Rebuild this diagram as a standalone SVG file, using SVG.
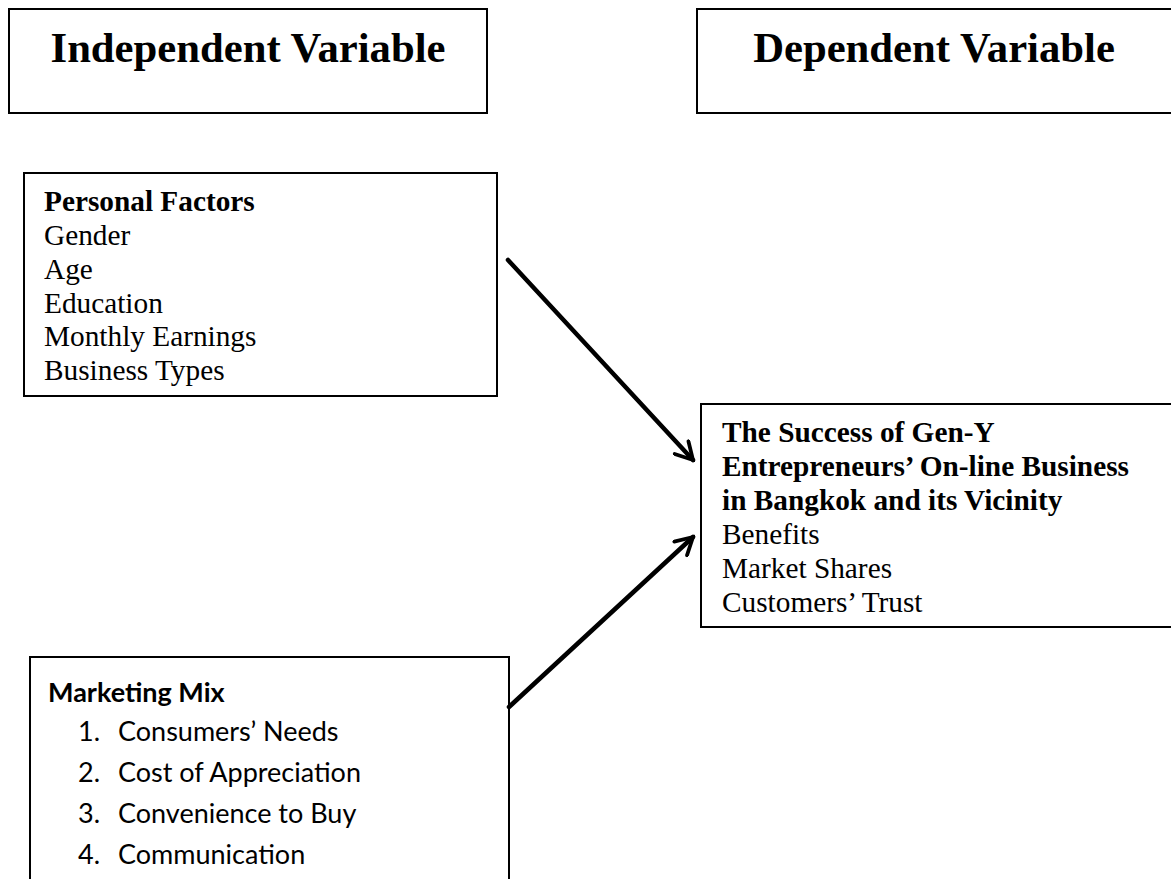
<svg xmlns="http://www.w3.org/2000/svg" width="1171" height="879" viewBox="0 0 1171 879">
<defs>
<style>
.box{fill:#fff;stroke:#000;stroke-width:2}
.title{font-family:"Liberation Serif","Times New Roman",serif;font-weight:bold;font-size:42.7px;text-anchor:middle}
.t{font-family:"Liberation Serif","Times New Roman",serif;font-size:29.3px}
.tb{font-family:"Liberation Serif","Times New Roman",serif;font-size:29.3px;font-weight:bold}
.c{font-family:Lato,"Liberation Sans",sans-serif;font-size:27px}
.cb{font-family:Lato,"Liberation Sans",sans-serif;font-size:27px;font-weight:bold}
.arrow{stroke:#000;stroke-width:4.5;fill:none;stroke-linecap:round}
</style>
<marker id="ah" viewBox="0 0 12 12" refX="10.5" refY="6" markerWidth="5" markerHeight="5" orient="auto" markerUnits="strokeWidth">
<path d="M1.5,1 L10.5,6 L1.5,11" fill="none" stroke="#000" stroke-width="2" stroke-linecap="round" stroke-linejoin="miter"/>
</marker>
</defs>
<rect width="1171" height="879" fill="#fff"/>
<g id="independent">
<rect class="box" x="9" y="9" width="478" height="104"/>
<text class="title" x="248" y="62">Independent Variable</text>
</g>
<g id="dependent">
<rect class="box" x="697" y="9" width="500" height="104"/>
<text class="title" x="934" y="62">Dependent Variable</text>
</g>
<g id="personal">
<rect class="box" x="24" y="173" width="473" height="223"/>
<text class="tb" x="44" y="211">Personal Factors</text>
<text class="t" x="44" y="245">Gender</text>
<text class="t" x="44" y="279">Age</text>
<text class="t" x="44" y="313">Education</text>
<text class="t" x="44" y="346">Monthly Earnings</text>
<text class="t" x="44" y="380">Business Types</text>
</g>
<g id="success">
<rect class="box" x="701" y="404" width="500" height="223"/>
<text class="tb" x="722" y="442">The Success of Gen-Y</text>
<text class="tb" x="722" y="476">Entrepreneurs’ On-line Business</text>
<text class="tb" x="722" y="510">in Bangkok and its Vicinity</text>
<text class="t" x="722" y="544">Benefits</text>
<text class="t" x="722" y="578">Market Shares</text>
<text class="t" x="722" y="612">Customers’ Trust</text>
</g>
<g id="marketing">
<rect class="box" x="30" y="657" width="479" height="240"/>
<text class="cb" x="48" y="702">Marketing Mix</text>
<text class="c" x="78" y="741">1.</text><text class="c" x="118" y="741">Consumers’ Needs</text>
<text class="c" x="78" y="782">2.</text><text class="c" x="118" y="782">Cost of Appreciation</text>
<text class="c" x="78" y="823">3.</text><text class="c" x="118" y="823">Convenience to Buy</text>
<text class="c" x="78" y="864">4.</text><text class="c" x="118" y="864">Communication</text>
</g>
<g id="connectors">
<line class="arrow" x1="508" y1="260" x2="693" y2="460" marker-end="url(#ah)"/>
<line class="arrow" x1="509" y1="707" x2="693" y2="537" marker-end="url(#ah)"/>
</g>
</svg>
